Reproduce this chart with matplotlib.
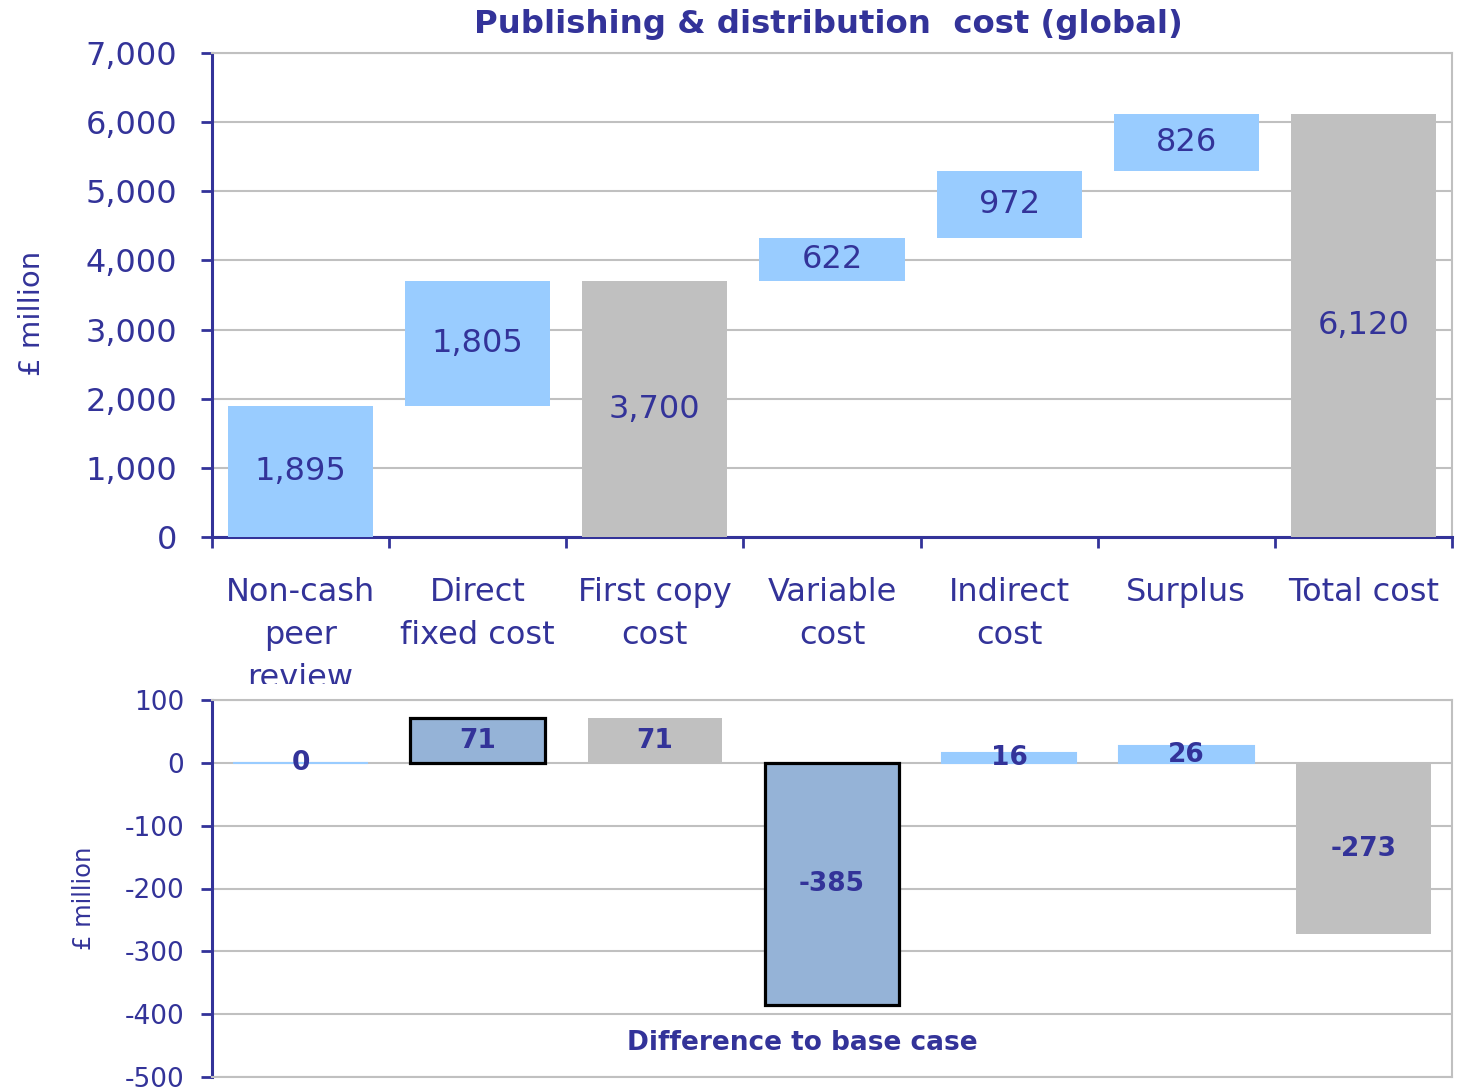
import matplotlib
matplotlib.use("Agg")
import matplotlib.pyplot as plt
import numpy as np
from matplotlib.patches import Rectangle

categories = ["Non-cash\npeer\nreview", "Direct\nfixed cost", "First copy\ncost",
              "Variable\ncost", "Indirect\ncost", "Surplus", "Total cost"]
top_values = [1895, 1805, 3700, 622, 972, 826, 6120]
top_is_total = [False, False, True, False, False, False, True]
diff_values = [0, 71, 71, -385, 16, 26, -273]
diff_kind = ["inc", "hl", "total", "hl", "inc", "inc", "total"]
top_yticks = [0, 1000, 2000, 3000, 4000, 5000, 6000, 7000]
diff_yticks = [-500, -400, -300, -200, -100, 0, 100]

NAVY = "#333399"
BLUE = "#99CCFF"
GRAY = "#C0C0C0"
HL = "#95B3D7"
GRID = "#C0C0C0"
FONT = "DejaVu Sans"

plt.rcParams['font.family'] = [FONT]
plt.rcParams['axes.unicode_minus'] = False

W, H = 1458, 1091
fig = plt.figure(figsize=(W / 100, H / 100), dpi=100)

def fx(px):
    return px / W

def fy(py):
    return 1 - py / H

ax = fig.add_axes([fx(212), fy(537), fx(1452) - fx(212), fy(53) - fy(537)])
ax2 = fig.add_axes([fx(212), fy(1077), fx(1452) - fx(212), fy(700) - fy(1077)])

n = len(categories)
x = np.arange(n)

# waterfall bottoms
bottoms = []
run = 0
for v, tot in zip(top_values, top_is_total):
    if tot:
        bottoms.append(0)
        run = v
    else:
        bottoms.append(run)
        run += v
colors = [GRAY if t else BLUE for t in top_is_total]
ax.bar(x, top_values, bottom=bottoms, width=0.82, color=colors, zorder=3)
for xi, v, b in zip(x, top_values, bottoms):
    ax.text(xi, b + v / 2, f"{v:,}", ha="center", va="center", color=NAVY,
            fontsize=23, zorder=4)

ax.set_xlim(-0.5, n - 0.5)
ax.set_ylim(0, 7000)
ax.set_yticks(top_yticks)
ax.set_yticklabels([f"{t:,}" for t in top_yticks])
ax.yaxis.grid(True, color=GRID, linewidth=1.5, zorder=0)
ax.set_axisbelow(True)
ax.set_xticks(np.arange(-0.5, n, 1.0))
ax.set_xticklabels([])
ax.set_xticks(x, minor=True)
ax.set_xticklabels(categories, minor=True, linespacing=1.5)
ax.tick_params(axis="x", which="major", direction="out", length=8, width=2, color=NAVY)
ax.tick_params(axis="x", which="minor", length=0, pad=29, labelsize=23, labelcolor=NAVY)
ax.tick_params(axis="y", direction="out", length=8, width=2, color=NAVY,
               labelsize=23, labelcolor=NAVY, pad=17)
for lab in ax.get_xticklabels(minor=True):
    lab.set_verticalalignment("top")
ax.spines["left"].set_color(NAVY)
ax.spines["left"].set_linewidth(2.2)
ax.spines["bottom"].set_color(NAVY)
ax.spines["bottom"].set_linewidth(2.2)
ax.spines["top"].set_color(GRID)
ax.spines["top"].set_linewidth(1.5)
ax.spines["right"].set_color(GRID)
ax.spines["right"].set_linewidth(1.5)

fig.text(fx(32), fy(313), "£ million", rotation=90, ha="center", va="center",
         color=NAVY, fontsize=21)
fig.text(fx(828), fy(24), "Publishing & distribution  cost (global)", ha="center",
         va="center", color=NAVY, fontsize=23.3, fontweight="bold")

# bottom chart
for xi, v, k in zip(x, diff_values, diff_kind):
    if k == "inc":
        ax2.bar(xi, v, width=0.76, color=BLUE, edgecolor=BLUE, linewidth=1.5, zorder=3)
    elif k == "total":
        ax2.bar(xi, v, width=0.76, color=GRAY, zorder=3)
    else:
        ax2.bar(xi, v, width=0.76, color=HL, edgecolor="black", linewidth=2.3, zorder=3)
    ax2.text(xi, v / 2, f"{v}", ha="center", va="center", color=NAVY,
             fontsize=19, fontweight="bold", zorder=5)

ax2.set_xlim(-0.5, n - 0.5)
ax2.set_ylim(-500, 100)
ax2.set_yticks(diff_yticks)
ax2.set_xticks([])
ax2.yaxis.grid(True, color=GRID, linewidth=1.5, zorder=0)
ax2.set_axisbelow(True)
ax2.tick_params(axis="y", direction="out", length=8, width=2, color=NAVY,
                labelsize=19, labelcolor=NAVY, pad=12)
ax2.spines["left"].set_color(NAVY)
ax2.spines["left"].set_linewidth(2.2)
for s in ["top", "right", "bottom"]:
    ax2.spines[s].set_color(GRID)
    ax2.spines[s].set_linewidth(1.5)
fig.text(fx(84), fy(898), "£ million", rotation=90, ha="center", va="center",
         color=NAVY, fontsize=17.5)
ax2.text(0.476, 0.09, "Difference to base case", transform=ax2.transAxes,
         ha="center", va="center", color=NAVY, fontsize=19, fontweight="bold")

# clip the overflowing category label like the original
fig.patches.append(Rectangle((fx(200), fy(698)), fx(420) - fx(200), fy(684) - fy(698),
                             transform=fig.transFigure, facecolor="white",
                             edgecolor="none", zorder=10))

fig.savefig("out.png", dpi=100)
